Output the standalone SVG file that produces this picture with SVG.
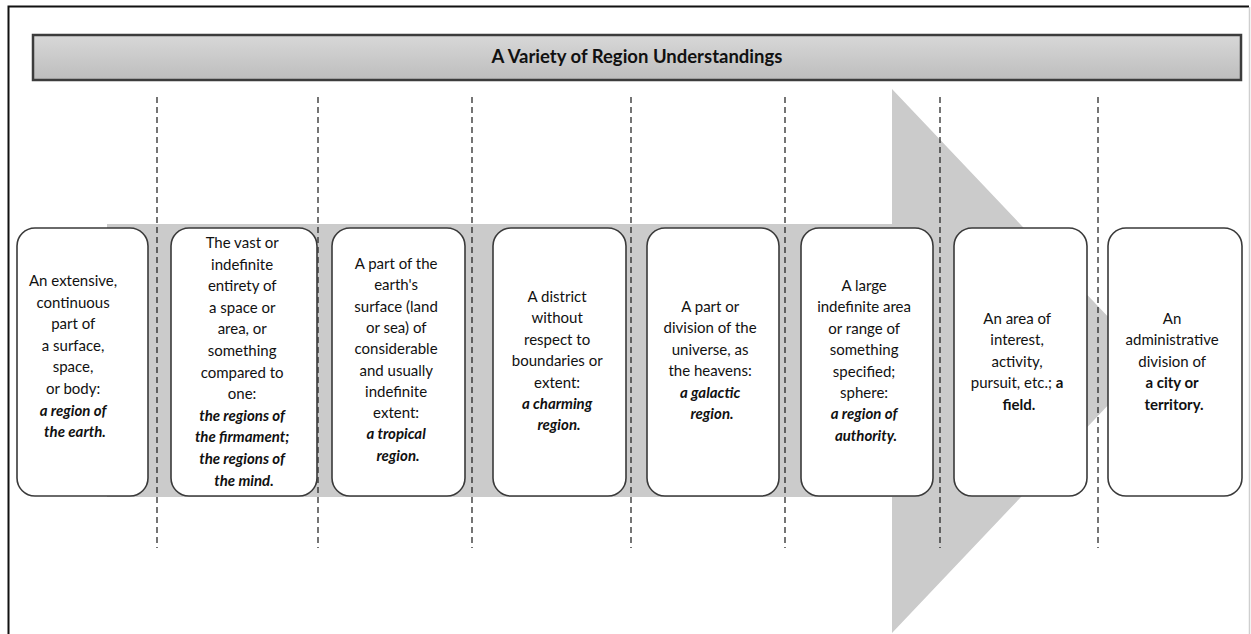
<svg xmlns="http://www.w3.org/2000/svg" width="1251" height="634" viewBox="0 0 1251 634">
  <defs>
    <linearGradient id="barFill" x1="0" y1="0" x2="0" y2="1">
      <stop offset="0" stop-color="#d8d8d8"/>
      <stop offset="1" stop-color="#bdbdbd"/>
    </linearGradient>
    <style>
      .card { fill: #ffffff; stroke: #3a3a3a; stroke-width: 1.6; }
      .sep { stroke: #1a1a1a; stroke-width: 1.2; stroke-dasharray: 6 4; fill: none; }
      .txt { font-family: Lato, "Open Sans", sans-serif; font-size: 15px; fill: #111111; text-anchor: middle; }
      .ex { font-weight: bold; font-style: italic; }
      .b { font-weight: bold; }
      .title { font-family: Lato, "Open Sans", sans-serif; font-size: 18.5px; font-weight: bold; fill: #111111; text-anchor: middle; }
    </style>
  </defs>

  <rect x="0" y="0" width="1251" height="634" fill="#ffffff"/>

  <!-- page frame -->
  <path d="M8.5 634 V6.5 H1249" fill="none" stroke="#111111" stroke-width="2"/>
  <path d="M1249.5 7 V634" fill="none" stroke="#cfcfcf" stroke-width="1.5"/>

  <!-- header bar -->
  <g id="header">
    <rect x="33" y="35" width="1208" height="45" fill="url(#barFill)" stroke="#3c3c3c" stroke-width="2.5"/>
    <text class="title" x="637" y="63">A Variety of Region Understandings</text>
  </g>

  <!-- large background arrow -->
  <path id="arrow" d="M107 224 H892 V89 L1150 361 L892 633 V497 H107 Z" fill="#cbcbcb"/>

  <!-- dashed column separators -->
  <g id="connectors">
    <line class="sep" x1="157" y1="97" x2="157" y2="548"/>
    <line class="sep" x1="318" y1="97" x2="318" y2="548"/>
    <line class="sep" x1="472" y1="97" x2="472" y2="548"/>
    <line class="sep" x1="631" y1="97" x2="631" y2="548"/>
    <line class="sep" x1="785" y1="97" x2="785" y2="548"/>
    <line class="sep" x1="940" y1="97" x2="940" y2="548"/>
    <line class="sep" x1="1098" y1="97" x2="1098" y2="548"/>
  </g>

  <g id="card1">
    <rect class="card" x="17" y="228" width="131" height="268" rx="18"/>
    <text class="txt" y="286">
      <tspan x="75">An extensive,</tspan>
      <tspan x="75" dy="21.6">continuous</tspan>
      <tspan x="75" dy="21.6">part of</tspan>
      <tspan x="75" dy="21.6">a surface,</tspan>
      <tspan x="75" dy="21.6">space,</tspan>
      <tspan x="75" dy="21.6">or body:</tspan>
      <tspan x="75" dy="21.6" class="ex">a region of</tspan>
      <tspan x="75" dy="21.6" class="ex">the earth.</tspan>
    </text>
  </g>

  <g id="card2">
    <rect class="card" x="171" y="228" width="146" height="268" rx="18"/>
    <text class="txt" y="248">
      <tspan x="244">The vast or</tspan>
      <tspan x="244" dy="21.6">indefinite</tspan>
      <tspan x="244" dy="21.6">entirety of</tspan>
      <tspan x="244" dy="21.6">a space or</tspan>
      <tspan x="244" dy="21.6">area, or</tspan>
      <tspan x="244" dy="21.6">something</tspan>
      <tspan x="244" dy="21.6">compared to</tspan>
      <tspan x="244" dy="21.6">one:</tspan>
      <tspan x="244" dy="21.6" class="ex">the regions of</tspan>
      <tspan x="244" dy="21.6" class="ex">the firmament;</tspan>
      <tspan x="244" dy="21.6" class="ex">the regions of</tspan>
      <tspan x="244" dy="21.6" class="ex">the mind.</tspan>
    </text>
  </g>

  <g id="card3">
    <rect class="card" x="332" y="228" width="133" height="268" rx="18"/>
    <text class="txt" y="269">
      <tspan x="398">A part of the</tspan>
      <tspan x="398" dy="21.3">earth's</tspan>
      <tspan x="398" dy="21.3">surface (land</tspan>
      <tspan x="398" dy="21.3">or sea) of</tspan>
      <tspan x="398" dy="21.3">considerable</tspan>
      <tspan x="398" dy="21.3">and usually</tspan>
      <tspan x="398" dy="21.3">indefinite</tspan>
      <tspan x="398" dy="21.3">extent:</tspan>
      <tspan x="398" dy="21.3" class="ex">a tropical</tspan>
      <tspan x="398" dy="21.3" class="ex">region.</tspan>
    </text>
  </g>

  <g id="card4">
    <rect class="card" x="493" y="228" width="133" height="268" rx="18"/>
    <text class="txt" y="302">
      <tspan x="559">A district</tspan>
      <tspan x="559" dy="21.4">without</tspan>
      <tspan x="559" dy="21.4">respect to</tspan>
      <tspan x="559" dy="21.4">boundaries or</tspan>
      <tspan x="559" dy="21.4">extent:</tspan>
      <tspan x="559" dy="21.4" class="ex">a charming</tspan>
      <tspan x="559" dy="21.4" class="ex">region.</tspan>
    </text>
  </g>

  <g id="card5">
    <rect class="card" x="647" y="228" width="132" height="268" rx="18"/>
    <text class="txt" y="312">
      <tspan x="712">A part or</tspan>
      <tspan x="712" dy="21.4">division of the</tspan>
      <tspan x="712" dy="21.4">universe, as</tspan>
      <tspan x="712" dy="21.4">the heavens:</tspan>
      <tspan x="712" dy="21.4" class="ex">a galactic</tspan>
      <tspan x="712" dy="21.4" class="ex">region.</tspan>
    </text>
  </g>

  <g id="card6">
    <rect class="card" x="801" y="228" width="132" height="268" rx="18"/>
    <text class="txt" y="291">
      <tspan x="866">A large</tspan>
      <tspan x="866" dy="21.4">indefinite area</tspan>
      <tspan x="866" dy="21.4">or range of</tspan>
      <tspan x="866" dy="21.4">something</tspan>
      <tspan x="866" dy="21.4">specified;</tspan>
      <tspan x="866" dy="21.4">sphere:</tspan>
      <tspan x="866" dy="21.4" class="ex">a region of</tspan>
      <tspan x="866" dy="21.4" class="ex">authority.</tspan>
    </text>
  </g>

  <g id="card7">
    <rect class="card" x="954" y="228" width="133" height="268" rx="18"/>
    <text class="txt" y="324">
      <tspan x="1019">An area of</tspan>
      <tspan x="1019" dy="21.4">interest,</tspan>
      <tspan x="1019" dy="21.4">activity,</tspan>
      <tspan x="1019" dy="21.4">pursuit, etc.; <tspan class="b">a</tspan></tspan>
      <tspan x="1019" dy="21.4" class="b">field.</tspan>
    </text>
  </g>

  <g id="card8">
    <rect class="card" x="1108" y="228" width="134" height="268" rx="18"/>
    <text class="txt" y="324">
      <tspan x="1174">An</tspan>
      <tspan x="1174" dy="21.4">administrative</tspan>
      <tspan x="1174" dy="21.4">division of</tspan>
      <tspan x="1174" dy="21.4" class="b">a city or</tspan>
      <tspan x="1174" dy="21.4" class="b">territory.</tspan>
    </text>
  </g>
</svg>
